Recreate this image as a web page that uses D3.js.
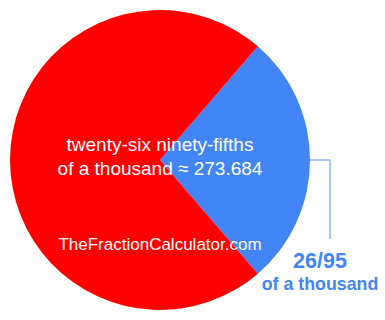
<!DOCTYPE html>
<html>
<head>
<meta charset="utf-8">
<script src="https://cdn.jsdelivr.net/npm/d3@7"></script>
<style>
  body { margin: 0; background: #fff; }
  svg { display: block; font-family: "Liberation Sans", Arial, sans-serif; }
</style>
</head>
<body>
<svg id="chart" width="385" height="320"></svg>
<script>
// slices: the fraction of a thousand and what is left of it
slices = ["26/95 of a thousand", "remainder"];
values = [273.684, 726.316];
colors = ["#4285f4", "#ff0000"];
centerLines = ["twenty-six ninety-fifths", "of a thousand \u2248 273.684"];
calloutLines = ["26/95", "of a thousand"];
watermark = "TheFractionCalculator.com";

cx = 160; cy = 160; radius = 150;

svg = d3.select("#chart");
g = svg.append("g").attr("transform", `translate(${cx},${cy})`);

total = d3.sum(values);
blueAngle = values[0] / total * 2 * Math.PI;

// keep the small slice centred on the right side
pie = d3.pie().sort(null).value(d => d)
    .startAngle(Math.PI / 2 - blueAngle / 2)
    .endAngle(Math.PI / 2 - blueAngle / 2 + 2 * Math.PI);
arc = d3.arc().innerRadius(0).outerRadius(radius);

arcs = pie(values);
g.selectAll("path.slice")
    .data(arcs)
    .join("path")
    .attr("class", "slice")
    .attr("d", arc)
    .attr("fill", (d, i) => colors[i]);

// leader line from the blue slice to its label
mid = (arcs[0].startAngle + arcs[0].endAngle) / 2;
edge = d3.arc().innerRadius(radius).outerRadius(radius).centroid({startAngle: mid, endAngle: mid});
line = d3.line();
g.append("path")
    .attr("d", line([[edge[0], edge[1]], [170, edge[1]], [170, 79]]))
    .attr("fill", "none")
    .attr("stroke", "#8ab4f8")
    .attr("stroke-width", 1.5);

g.selectAll("text.center")
    .data(centerLines)
    .join("text")
    .attr("class", "center")
    .attr("x", 0)
    .attr("y", (d, i) => -9 + i * 24)
    .attr("text-anchor", "middle")
    .attr("fill", "#fff")
    .attr("font-size", 19)
    .text(d => d);

g.append("text")
    .attr("x", 0)
    .attr("y", 90)
    .attr("text-anchor", "middle")
    .attr("fill", "#fff")
    .attr("font-size", 17)
    .text(watermark);

g.selectAll("text.callout")
    .data(calloutLines)
    .join("text")
    .attr("class", "callout")
    .attr("x", 160)
    .attr("y", (d, i) => i == 0 ? 108 : 130)
    .attr("text-anchor", "middle")
    .attr("fill", colors[0])
    .attr("font-weight", "bold")
    .attr("font-size", (d, i) => i == 0 ? 21.5 : 17.8)
    .text(d => d);
</script>
</body>
</html>
